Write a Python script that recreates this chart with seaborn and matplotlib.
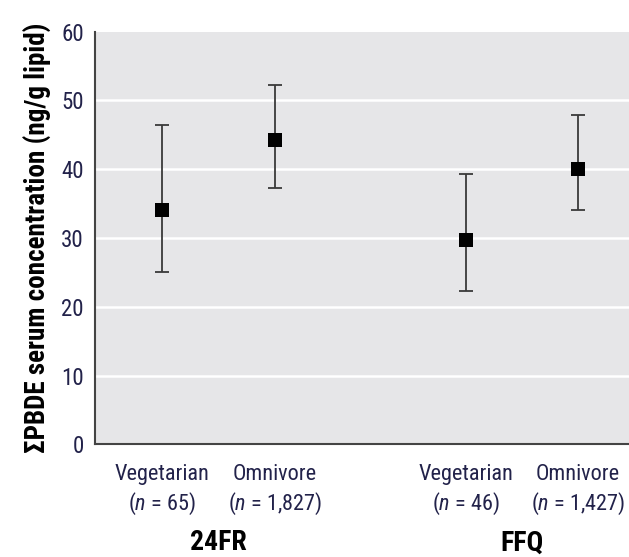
import matplotlib
matplotlib.use("Agg")
import matplotlib.pyplot as plt
import matplotlib.transforms as mtransforms
import seaborn as sns
import pandas as pd

# ---- data ----
groups = ["24FR", "24FR", "FFQ", "FFQ"]
diets = ["Vegetarian", "Omnivore", "Vegetarian", "Omnivore"]
n_counts = ["65", "1,827", "46", "1,427"]
medians = [34.1, 44.2, 29.7, 40.1]
lower = [25.0, 37.3, 22.3, 34.0]
upper = [46.5, 52.3, 39.3, 47.9]
y_ticks = [0, 10, 20, 30, 40, 50, 60]
y_label = "\u03a3PBDE serum concentration (ng/g lipid)"

FONT = "Roboto Condensed"
sns.set_style("white")
plt.rcParams["font.family"] = [FONT, "DejaVu Sans"]
plt.rcParams["mathtext.fontset"] = "custom"
plt.rcParams["mathtext.rm"] = FONT
plt.rcParams["mathtext.it"] = FONT + ":italic"

group_order = list(dict.fromkeys(groups))
within = []
counter = {}
for g in groups:
    within.append(counter.get(g, 0))
    counter[g] = counter.get(g, 0) + 1
xpos = [w + group_order.index(g) * 2.7 for g, w in zip(groups, within)]

df = pd.DataFrame({"x": xpos, "median": medians, "lo": lower, "hi": upper,
                   "group": groups, "diet": diets, "n": n_counts})

fig = plt.figure(figsize=(6.29, 5.57), dpi=100)
ax = fig.add_axes([0.151, 0.2023, 0.849, 0.7408])
ax.set_facecolor("#e6e6e8")

for y in y_ticks[1:-1]:
    ax.axhline(y, color="white", lw=1.8, zorder=0)

ax.errorbar(df["x"], df["median"],
            yerr=[df["median"] - df["lo"], df["hi"] - df["median"]],
            fmt="none", ecolor="#3a3a3a", elinewidth=1.3, capsize=5, capthick=1.3, zorder=2)
sns.scatterplot(data=df, x="x", y="median", marker="s", color="black", s=110,
                edgecolor="black", linewidth=0, ax=ax, zorder=3, legend=False)

ax.set_xlim(-0.6, 4.155)
ax.set_ylim(0, 60)
ax.set_yticks(y_ticks)
ax.set_yticklabels([str(v) for v in y_ticks], fontsize=16.5, color="#22224a")
ax.set_xticks(xpos)
ax.set_xticklabels([f"{d}\n($\\mathit{{n}}$ = {n})" for d, n in zip(diets, n_counts)],
                   fontsize=16, color="#22224a", linespacing=1.3)
ax.tick_params(axis="x", length=9, width=1.2, color="#444444", pad=5)
ax.tick_params(axis="y", length=0, pad=8)
ax.set_xlabel("")
ax.set_ylabel(y_label, fontsize=19.5, fontweight="bold", color="black", labelpad=7)

for s in ["top", "right"]:
    ax.spines[s].set_visible(False)
for s in ["left", "bottom"]:
    ax.spines[s].set_color("#444444")
    ax.spines[s].set_linewidth(1.5)

trans = mtransforms.blended_transform_factory(ax.transData, fig.transFigure)
for g in group_order:
    xs = [x for x, gg in zip(xpos, groups) if gg == g]
    ax.text(sum(xs) / len(xs), 1 - 543 / 557, g, transform=trans, ha="center", va="center",
            fontsize=20, fontweight="bold", color="black")

fig.savefig("out.png", dpi=100)
